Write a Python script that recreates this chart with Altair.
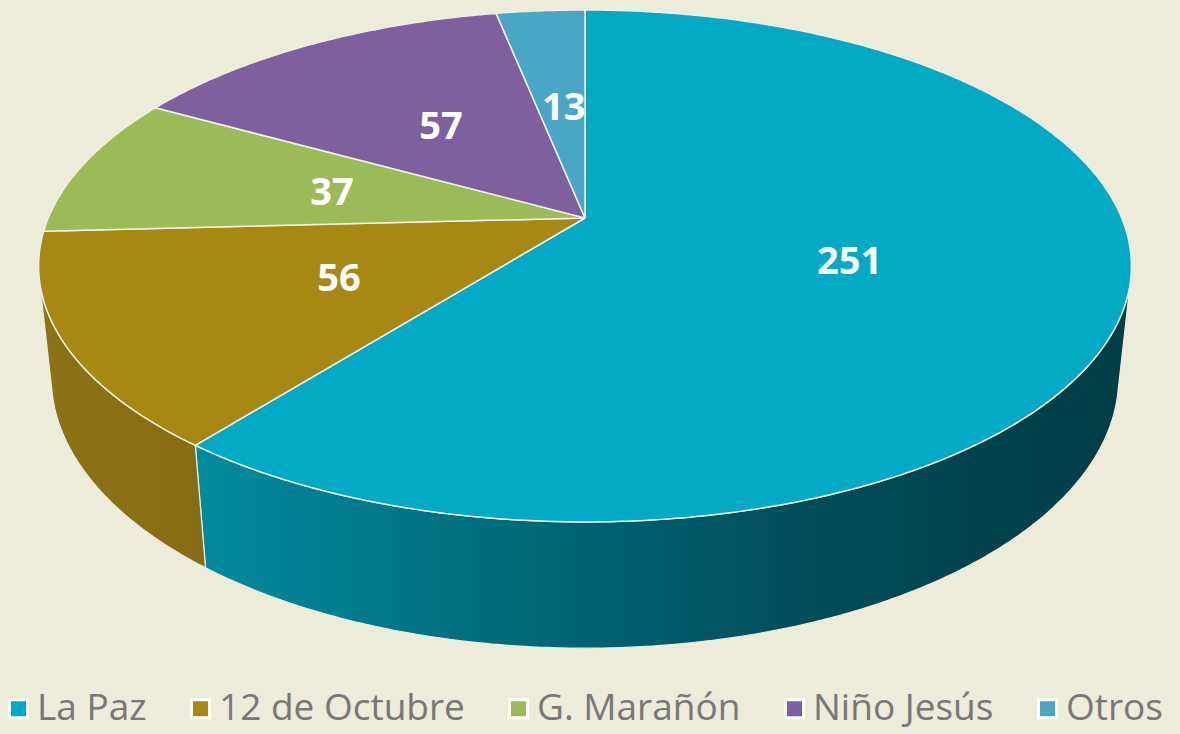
import numpy as np
import pandas as pd
import altair as alt

# ---- data ----
names = ["La Paz", "12 de Octubre", "G. Marañón", "Niño Jesús", "Otros"]
values = [251, 56, 37, 57, 13]
colors = ["#00AAC4", "#A68813", "#9BBB59", "#7F609E", "#4AA6C5"]

# side (wall) shading per slice, as gradient stops
side_stops = {
    "La Paz": [(0.0, "#008B9E"), (0.2, "#007889"), (0.43, "#00616F"),
               (0.65, "#004E5A"), (0.85, "#00424C"), (1.0, "#003D47")],
    "12 de Octubre": [(0.0, "#8B7316"), (0.5, "#8A6F16"), (1.0, "#876C17")],
    "G. Marañón": [(0.0, "#7A9646"), (1.0, "#6E8A3F")],
    "Niño Jesús": [(0.0, "#654C80"), (1.0, "#5A4373")],
    "Otros": [(0.0, "#3A869C"), (1.0, "#2F7689")],
}

# ---- 3D perspective geometry (style constants) ----
W, H = 1180, 734
CX, CY = 585.0, 218.0
F = 2544.0
L = 4.74
ALPHA = np.radians(27.4)
DEPTH = 0.236


def project(theta_deg, r=1.0, z=0.0):
    t = np.radians(theta_deg)
    X = r * np.sin(t)
    Y = r * np.cos(t)
    d = L + Y * np.cos(ALPHA) - z * np.sin(ALPHA)
    u = Y * np.sin(ALPHA) + z * np.cos(ALPHA)
    return CX + F * X / d, CY - F * u / d


def arc(a, b, step=0.5):
    n = max(2, int(np.ceil(abs(b - a) / step)) + 1)
    return np.linspace(a, b, n)


total = float(sum(values))
cum = np.cumsum([0.0] + list(values))
starts = 360.0 * cum[:-1] / total
ends = 360.0 * cum[1:] / total

xenc = alt.X("x:Q", scale=alt.Scale(domain=[0, W], nice=False, zero=False), axis=None)
yenc = alt.Y("y:Q", scale=alt.Scale(domain=[H, 0], nice=False, zero=False), axis=None)

# top faces
top_rows = []
for nm, s, e in zip(names, starts, ends):
    i = 0
    cx0, cy0 = project(0.0, r=0.0)
    top_rows.append({"name": nm, "i": i, "x": cx0, "y": cy0}); i += 1
    for th in arc(s, e):
        x, y = project(th)
        top_rows.append({"name": nm, "i": i, "x": x, "y": y}); i += 1
    top_rows.append({"name": nm, "i": i, "x": cx0, "y": cy0})
top_df = pd.DataFrame(top_rows)

# visible side walls (between the silhouette generators)
sil = np.degrees(np.arccos(-1.0 / (L * np.cos(ALPHA))))
side_layers = []
for nm, s, e in zip(names, starts, ends):
    a, b = max(s, sil), min(e, 360.0 - sil)
    if b <= a:
        continue
    rows = []
    i = 0
    for th in arc(a, b):
        x, y = project(th)
        rows.append({"name": nm, "i": i, "x": x, "y": y}); i += 1
    for th in arc(b, a):
        x, y = project(th, z=-DEPTH)
        rows.append({"name": nm, "i": i, "x": x, "y": y}); i += 1
    x, y = project(a)
    rows.append({"name": nm, "i": i, "x": x, "y": y})
    grad = alt.Gradient(
        gradient="linear", x1=0, x2=1, y1=0, y2=0,
        stops=[alt.GradientStop(offset=o, color=c) for o, c in side_stops[nm]],
    )
    side_layers.append(
        alt.Chart(pd.DataFrame(rows))
        .mark_line(fill=grad, stroke="#EEEDE2", strokeWidth=1.2, strokeJoin="round")
        .encode(x=xenc, y=yenc, order=alt.Order("i:Q"))
    )

# labels at half radius, mid angle
lab_rows = []
for nm, v, s, e in zip(names, values, starts, ends):
    x, y = project((s + e) / 2.0, r=0.5)
    lab_rows.append({"name": nm, "value": str(v), "x": x, "y": y})
lab_df = pd.DataFrame(lab_rows)

top = (
    alt.Chart(top_df)
    .mark_line(stroke="#F1F0E6", strokeWidth=1.5, strokeJoin="round")
    .encode(
        x=xenc,
        y=yenc,
        order=alt.Order("i:Q"),
        fill=alt.Fill(
            "name:N",
            scale=alt.Scale(domain=names, range=colors),
            sort=names,
            legend=alt.Legend(
                title=None,
                orient="none",
                legendX=0,
                legendY=690,
                direction="horizontal",
                columns=5,
                symbolType="square",
                symbolSize=324,
                symbolStrokeColor="white",
                symbolStrokeWidth=3,
                symbolOpacity=1,
                labelFont="Open Sans",
                labelFontSize=37,
                labelColor="#777777",
                labelOffset=0,
                columnPadding=35,
                labelLimit=400,
            ),
        ),
    )
)

labels = (
    alt.Chart(lab_df)
    .mark_text(font="Open Sans", fontSize=38, fontWeight="bold", color="white",
               align="center", baseline="middle", dx=3, dy=3)
    .encode(x=xenc, y=yenc, text="value:N")
)

chart = (
    alt.layer(*side_layers, top, labels)
    .properties(width=W, height=H, autosize=alt.AutoSizeParams(type="none"), padding=0,
                background="#EDEBD9")
    .configure_view(stroke=None)
)

chart.save("out.html", embed_options={"renderer": "svg", "actions": False})
